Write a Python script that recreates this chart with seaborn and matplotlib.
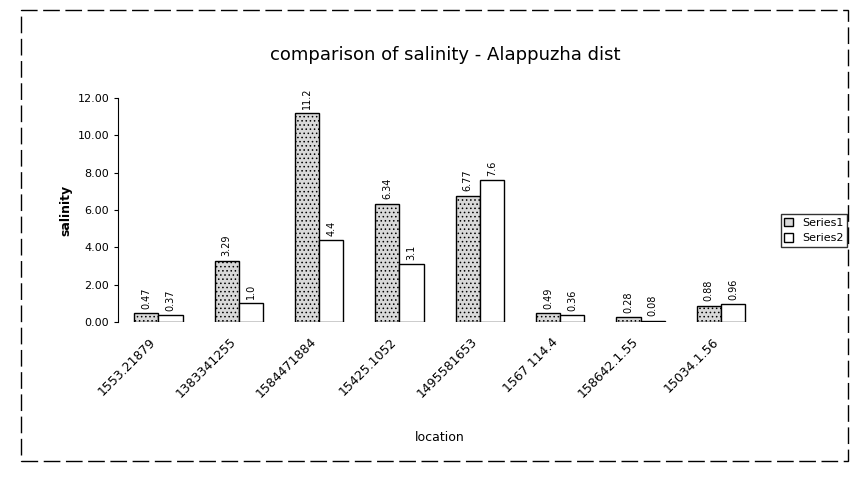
import matplotlib
matplotlib.use("Agg")
import matplotlib.pyplot as plt
import seaborn as sns
import pandas as pd
from matplotlib.patches import Rectangle

locations = ["1553.21879", "1383341255", "1584471884", "15425.1052",
             "1495581653", "1567 114.4", "158642.1.55", "15034.1.56"]
series1 = [0.47, 3.29, 11.2, 6.34, 6.77, 0.49, 0.28, 0.88]
series2 = [0.37, 1.0, 4.4, 3.1, 7.6, 0.36, 0.08, 0.96]
series_names = ["Series1", "Series2"]
yticks = [0, 2, 4, 6, 8, 10, 12]

df = pd.DataFrame({
    "location": locations * 2,
    "salinity": series1 + series2,
    "series": [series_names[0]] * len(locations) + [series_names[1]] * len(locations),
})

sns.set_theme(style="white", rc={"text.color": "black", "axes.labelcolor": "black",
                                 "xtick.color": "black", "ytick.color": "black"})
plt.rcParams["font.family"] = ["DejaVu Sans"]
plt.rcParams["hatch.color"] = "#555555"
plt.rcParams["hatch.linewidth"] = 0.6

fig = plt.figure(figsize=(8.57, 4.80), dpi=100)
ax = fig.add_axes([0.138, 0.329, 0.75, 0.467])

sns.barplot(data=df, x="location", y="salinity", hue="series",
            palette=["#d9d9d9", "white"], edgecolor="black", linewidth=1.0,
            width=0.6, ax=ax, errorbar=None)

hatches = ["....", ""]
for cont, h in zip(ax.containers, hatches):
    for p in cont:
        p.set_hatch(h)
    ax.bar_label(cont, labels=[f"{v:.1f}" if v == int(v) else f"{v:g}" for v in cont.datavalues],
                 rotation=90, fontsize=7, padding=3)

ax.set_ylim(0, 12)
ax.set_yticks(yticks)
ax.set_yticklabels([f"{v:.2f}" for v in yticks], fontsize=8)
ax.tick_params(axis="y", left=True, length=3, width=0.8, color="black")
ax.set_xticks(range(len(locations)))
ax.set_xticklabels(locations, rotation=45, ha="right", fontsize=9)
ax.set_xlabel("location", fontsize=9, labelpad=22)
ax.set_ylabel("salinity", fontsize=9, fontweight="bold")
for s in ["top", "right", "bottom"]:
    ax.spines[s].set_visible(False)
ax.spines["left"].set_color("black")
ax.spines["left"].set_linewidth(0.8)

fig.text(0.52, 0.885, "comparison of salinity - Alappuzha dist",
         ha="center", va="center", fontsize=13)

handles, labels = ax.get_legend_handles_labels()
ax.legend(handles, labels, loc="center left", bbox_to_anchor=(0.905, 0.52),
          bbox_transform=fig.transFigure, fontsize=8, frameon=True,
          fancybox=False, edgecolor="black", handlelength=0.8,
          handleheight=0.8, borderpad=0.3, labelspacing=0.5)

fig.patches.append(Rectangle((0.025, 0.04), 0.965, 0.94, transform=fig.transFigure,
                             fill=False, edgecolor="black", linewidth=1.0,
                             linestyle=(0, (12, 4))))

fig.savefig("out.png", dpi=100)
